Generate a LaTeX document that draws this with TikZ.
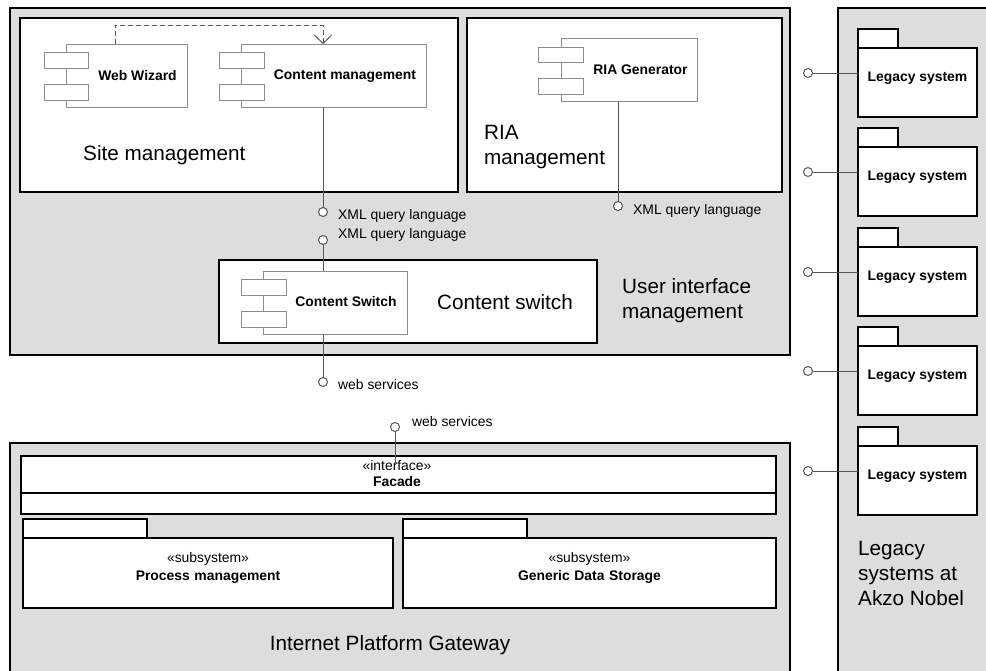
\documentclass[tikz,border=0pt]{standalone}
\usepackage{fontspec}
\setmainfont{Liberation Sans}
\usetikzlibrary{arrows.meta,fit}
\definecolor{bggray}{HTML}{DDDDDD}
\definecolor{compgray}{HTML}{8C8C8C}
\definecolor{linegray}{HTML}{555555}
\begin{document}
\begin{tikzpicture}[x=1pt,y=-1pt,
  frame/.style={draw=black,fill=bggray,line width=1.3pt,inner sep=0pt,outer sep=0pt},
  pkg/.style={draw=black,fill=white,line width=1.3pt,inner sep=0pt,outer sep=0pt},
  comp/.style={draw=compgray,fill=white,line width=1pt,inner sep=0pt,outer sep=0pt},
  lolli/.style={circle,draw=linegray,fill=white,line width=1pt,minimum size=9pt,inner sep=0pt,outer sep=0pt},
  conn/.style={draw=linegray,line width=1pt},
  dep/.style={draw=linegray,line width=1pt,dash pattern=on 5pt off 3pt,-{Straight Barb[length=8pt,width=17pt]}},
  sm/.style={font=\fontsize{13.9}{16}\selectfont,inner sep=0pt},
  bl/.style={font=\fontsize{13.9}{16}\selectfont\bfseries,inner sep=0pt},
  big/.style={font=\fontsize{20.7}{25}\selectfont,inner sep=0pt,align=left}]
\clip (0,0) rectangle (986,670);
\fill[white] (0,0) rectangle (986,670);

% User interface management
\node[frame,fit={(10,8) (790,355)}] (ui) {};
\node[big,anchor=west] (uit) at (622,300.5) {User interface\\management};

% Site management
\node[pkg,fit={(20,18) (458,192)}] (site) {};
\node[big,anchor=west] (sitet) at (83,155) {Site management};

\node[comp,fit={(66,44) (187,107)}] (ww) {};
\node[comp,fit={(44,52) (88,68)}] (wwa) {};
\node[comp,fit={(44,84) (88,100)}] (wwb) {};
\node[bl] (wwt) at (137.5,76) {Web Wizard};

\node[comp,fit={(241,44) (426,107)}] (cm) {};
\node[comp,fit={(219,52) (264,68)}] (cma) {};
\node[comp,fit={(219,84) (264,100)}] (cmb) {};
\node[bl] (cmt) at (345,76) {Content management};

\coordinate (dA) at (115,25);
\coordinate (dB) at (323,25);
\draw[dep] (ww.north -| dA) |- (dB) -- (cm.north -| dB);

% RIA management
\node[pkg,fit={(467,18) (782,192)}] (ria) {};
\node[big,anchor=west] (riat) at (484,147.5) {RIA\\management};
\node[comp,fit={(561,38) (697,101)}] (rg) {};
\node[comp,fit={(538,47) (583,62)}] (rga) {};
\node[comp,fit={(538,78) (583,94)}] (rgb) {};
\node[bl] (rgt) at (640.5,70) {RIA Generator};

% Content switch
\node[pkg,fit={(219,260) (597,343)}] (csw) {};
\node[big] (cswt) at (505,302) {Content switch};
\node[comp,fit={(263,271) (407,334)}] (cs) {};
\node[comp,fit={(241,279) (286,295)}] (csa) {};
\node[comp,fit={(241,311) (286,327)}] (csb) {};
\node[bl] (cst) at (346,302) {Content Switch};

% interfaces
\node[lolli] (x1) at (323,212) {};
\draw[conn] (cm.south -| x1) -- (x1);
\node[sm,anchor=west] (x1t) at (338,216) {XML query language};
\node[lolli] (x2) at (323,240) {};
\draw[conn] (x2) -- (cs.north -| x2);
\node[sm,anchor=west] (x2t) at (338,235) {XML query language};
\node[lolli] (x3) at (618,206) {};
\draw[conn] (rg.south -| x3) -- (x3);
\node[sm,anchor=west] (x3t) at (633,211) {XML query language};
\node[lolli] (ws1) at (323,382) {};
\draw[conn] (cs.south -| ws1) -- (ws1);
\node[sm,anchor=west] (ws1t) at (338,385) {web services};

% Internet Platform Gateway
\node[frame,fit={(10,443) (790,680)}] (ipg) {};
\node[big] (ipgt) at (390,645) {Internet Platform Gateway};
\node[pkg,fit={(21,456) (776,514)}] (fac) {};
\coordinate (facdiv) at (0,493);
\draw[line width=1.3pt] (fac.west |- facdiv) -- (fac.east |- facdiv);
\node[sm,align=center] (fact) at (397,474) {«interface»\\\textbf{Facade}};
\node[lolli] (ws2) at (395,427) {};
\coordinate (facin) at (0,465);
\draw[conn] (ws2) -- (facin -| ws2);
\node[sm,anchor=west] (ws2t) at (412,422) {web services};

\node[pkg,fit={(23,519) (147,538)}] (pmtab) {};
\node[pkg,fit={(23,538) (393,608)},font=\fontsize{13.9}{18}\selectfont,align=center] (pm) {«subsystem»\\\textbf{Process management}};
\node[pkg,fit={(403,519) (527,538)}] (gdtab) {};
\node[pkg,fit={(403,538) (776,608)},font=\fontsize{13.9}{18}\selectfont,align=center] (gd) {«subsystem»\\\textbf{Generic Data Storage}};

% Legacy systems
\node[frame,fit={(838,8) (995,680)}] (leg) {};
\node[big,anchor=west] (legt) at (858,573) {Legacy\\systems at\\Akzo Nobel};
\foreach \i/\y in {1/29,2/128,3/228,4/327,5/427}{
  \node[pkg,fit={(858,\y) (898,\y+19)}] (lt\i) {};
  \node[pkg,fit={(858,\y+19) (977,\y+88)},font=\fontsize{13.9}{16}\selectfont\bfseries] (ls\i) {Legacy system};
  \node[lolli] (lp\i) at (808,\y+44) {};
  \draw[conn] (lp\i) -- (ls\i.west |- lp\i);
}
\end{tikzpicture}
\end{document}
